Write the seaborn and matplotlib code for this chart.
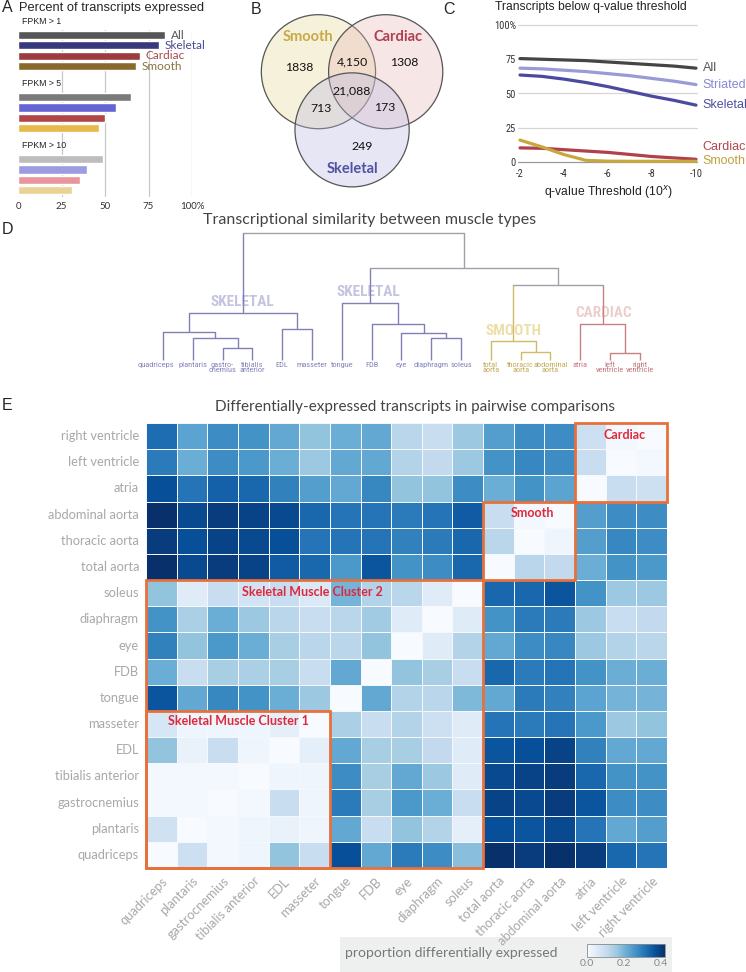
import numpy as np
import pandas as pd
import matplotlib
matplotlib.use("Agg")
import matplotlib.pyplot as plt
from matplotlib.patches import Circle, Rectangle
import seaborn as sns

# ---------------- data ----------------
# A: percent of transcripts expressed
fpkm_groups = ["FPKM > 1", "FPKM > 5", "FPKM > 10"]
tissue_sets = ["All", "Skeletal", "Cardiac", "Smooth"]
pct_fpkm1 = [84.5, 81, 70, 68]
pct_fpkm5 = [65, 56.5, 50, 46.5]
pct_fpkm10 = [49, 39.5, 35.5, 31]

# B: venn counts
venn_sets = ["Smooth", "Cardiac", "Skeletal"]
venn_regions = ["Smooth", "Cardiac", "Skeletal", "Smooth+Cardiac",
                "Smooth+Skeletal", "Cardiac+Skeletal", "All three"]
venn_labels = ["1838", "1308", "249", "4,150", "713", "173", "21,088"]

# C: transcripts below q-value threshold
q_exponent = [-2, -3, -4, -5, -6, -7, -8, -9, -10]
q_series = ["All", "Striated", "Skeletal", "Cardiac", "Smooth"]
pct_all = [75.5, 75, 74.5, 74, 73, 72, 71, 70, 68.5]
pct_striated = [68.5, 68, 67, 66, 64.5, 63, 61, 59, 56.5]
pct_skeletal = [63.5, 62.5, 60.5, 58, 55, 51.5, 48, 45, 41.5]
pct_cardiac = [10.3, 10, 9, 8, 7, 5.5, 4, 3, 2]
pct_smooth = [16, 11, 5.4, 1.2, 0.6, 0.5, 0.5, 0.5, 0.5]

# D: dendrogram (leaf order = heatmap column order)
muscles = ["quadriceps", "plantaris", "gastrocnemius", "tibialis anterior", "EDL",
           "masseter", "tongue", "FDB", "eye", "diaphragm", "soleus", "total aorta",
           "thoracic aorta", "abdominal aorta", "atria", "left ventricle", "right ventricle"]
leaf_labels = ["quadriceps", "plantaris", "gastro-\ncnemius", "tibialis\nanterior", "EDL",
               "masseter", "tongue", "FDB", "eye", "diaphragm", "soleus", "total\naorta",
               "thoracic\naorta", "abdominal\naorta", "atria", "left\nventricle", "right\nventricle"]
leaf_group = ["sk"] * 11 + ["sm"] * 3 + ["ca"] * 3
# (child a, child b, height, group); ids >= 17 refer to earlier merges
merges = [
    (2, 3, 12, "sk"), (1, 17, 22, "sk"), (0, 18, 28, "sk"), (4, 5, 31, "sk"),
    (19, 20, 47, "sk"), (9, 10, 22, "sk"), (8, 22, 27, "sk"), (7, 23, 36, "sk"),
    (6, 24, 57, "sk"), (12, 13, 8, "sm"), (11, 26, 19, "sm"), (15, 16, 7, "ca"),
    (14, 28, 36, "ca"), (27, 29, 75, "top"), (25, 30, 92, "top"), (21, 31, 127, "top"),
]

# E: proportion differentially expressed (rows top->bottom = reversed muscles)
diff_prop = [
    [0.32, 0.23, 0.27, 0.26, 0.22, 0.17, 0.21, 0.22, 0.12, 0.10, 0.16, 0.24, 0.27, 0.27, 0.09, 0.01, 0.00],
    [0.30, 0.21, 0.27, 0.25, 0.21, 0.16, 0.22, 0.22, 0.13, 0.11, 0.16, 0.26, 0.28, 0.27, 0.10, 0.00, 0.01],
    [0.37, 0.31, 0.34, 0.33, 0.29, 0.24, 0.22, 0.28, 0.17, 0.17, 0.27, 0.21, 0.26, 0.23, 0.00, 0.10, 0.09],
    [0.42, 0.38, 0.40, 0.39, 0.38, 0.33, 0.31, 0.31, 0.30, 0.31, 0.35, 0.10, 0.01, 0.00, 0.24, 0.27, 0.27],
    [0.40, 0.37, 0.39, 0.38, 0.37, 0.31, 0.31, 0.31, 0.29, 0.30, 0.33, 0.12, 0.00, 0.02, 0.24, 0.28, 0.27],
    [0.42, 0.38, 0.40, 0.39, 0.35, 0.33, 0.25, 0.36, 0.26, 0.27, 0.33, 0.00, 0.12, 0.11, 0.21, 0.26, 0.25],
    [0.17, 0.05, 0.10, 0.08, 0.10, 0.06, 0.20, 0.13, 0.12, 0.05, 0.00, 0.33, 0.33, 0.36, 0.26, 0.16, 0.16],
    [0.26, 0.14, 0.21, 0.16, 0.12, 0.10, 0.12, 0.155, 0.05, 0.00, 0.05, 0.26, 0.30, 0.30, 0.16, 0.10, 0.11],
    [0.29, 0.17, 0.25, 0.21, 0.145, 0.12, 0.12, 0.17, 0.00, 0.05, 0.13, 0.22, 0.27, 0.28, 0.16, 0.13, 0.12],
    [0.21, 0.10, 0.145, 0.14, 0.145, 0.10, 0.22, 0.00, 0.17, 0.145, 0.10, 0.33, 0.30, 0.31, 0.26, 0.21, 0.21],
    [0.36, 0.22, 0.28, 0.26, 0.21, 0.16, 0.00, 0.22, 0.13, 0.12, 0.19, 0.22, 0.30, 0.29, 0.23, 0.20, 0.20],
    [0.07, 0.02, 0.02, 0.02, 0.04, 0.00, 0.14, 0.10, 0.13, 0.09, 0.05, 0.31, 0.30, 0.31, 0.25, 0.16, 0.17],
    [0.17, 0.03, 0.10, 0.02, 0.00, 0.04, 0.22, 0.145, 0.145, 0.11, 0.05, 0.36, 0.37, 0.39, 0.29, 0.22, 0.22],
    [0.01, 0.01, 0.01, 0.00, 0.02, 0.02, 0.27, 0.145, 0.22, 0.16, 0.05, 0.38, 0.39, 0.40, 0.33, 0.26, 0.26],
    [0.01, 0.01, 0.00, 0.01, 0.10, 0.02, 0.30, 0.145, 0.25, 0.21, 0.10, 0.39, 0.38, 0.40, 0.36, 0.27, 0.27],
    [0.085, 0.00, 0.01, 0.02, 0.03, 0.02, 0.22, 0.10, 0.17, 0.13, 0.04, 0.37, 0.36, 0.38, 0.31, 0.22, 0.24],
    [0.00, 0.09, 0.01, 0.02, 0.17, 0.10, 0.37, 0.22, 0.30, 0.27, 0.18, 0.42, 0.40, 0.42, 0.40, 0.33, 0.31],
]
# boxed clusters: (label, first col, first row, size cols, size rows)
clusters = [("Cardiac", 14, 0, 3, 3), ("Smooth", 11, 3, 3, 3),
            ("Skeletal Muscle Cluster 2", 0, 6, 11, 11),
            ("Skeletal Muscle Cluster 1", 0, 11, 6, 6)]

# ---------------- style ----------------
sns.set_style("white")
plt.rcParams["font.family"] = ["Lato", "DejaVu Sans"]
ARIAL = ["Liberation Sans", "DejaVu Sans"]
NARROW = ["Roboto Condensed", "Liberation Sans Narrow", "Roboto", "DejaVu Sans"]

bar_colors = [["#565656", "#38387c", "#9c3c3e", "#8a6a2a"],
              ["#7a7a7a", "#6464d2", "#b0454a", "#e8b84a"],
              ["#bdbdbd", "#9c9ce0", "#e8959b", "#ebd193"]]
set_text_colors = {"All": "#555555", "Skeletal": "#4a4a92", "Cardiac": "#a44a4a", "Smooth": "#8a7040"}
line_colors = {"All": "#454545", "Striated": "#9a9ad8", "Skeletal": "#4a4aa0",
               "Cardiac": "#b0404a", "Smooth": "#c8a83e"}
line_text = {"All": "#555555", "Striated": "#8888d4", "Skeletal": "#5050a0",
             "Cardiac": "#b04850", "Smooth": "#c0a040"}
dendro_colors = {"sk": "#8080b6", "sm": "#d0bc64", "ca": "#c88080", "top": "#a0a0aa"}
leaf_text = {"sk": "#8484bc", "sm": "#c4aa58", "ca": "#c4767e"}
BOX = "#e8703a"
BOXTXT = "#e0283c"
TICKGRAY = "#a8a8a8"

W, H = 746, 972
fig = plt.figure(figsize=(W / 100, H / 100), dpi=100)


def px_axes(x0, y0, x1, y1):
    return fig.add_axes([x0 / W, 1 - y1 / H, (x1 - x0) / W, (y1 - y0) / H])


def letter(x, y, s):
    fig.text(x / W, 1 - y / H, s, fontsize=11.5, family=ARIAL, va="center", ha="left")


# ---------------- A ----------------
axA = px_axes(18, 14, 192, 198)
rows = []
palA = {}
for g, vals in enumerate([pct_fpkm1, pct_fpkm5, pct_fpkm10]):
    for i, (t, v) in enumerate(zip(tissue_sets, vals)):
        key = f"{g}-{t}"
        rows.append({"pos": g * 6 + 1 + i, "pct": v, "key": key})
        palA[key] = bar_colors[g][i]
dfA = pd.DataFrame(rows)
sns.barplot(data=dfA, x="pct", y="pos", hue="key", palette=palA, orient="y",
            native_scale=True, dodge=False, legend=False, saturation=1,
            width=0.8, ax=axA, zorder=2)
axA.set_xlim(0, 100)
axA.set_ylim(16.75, -1.03)
for v in [25, 50, 75, 100]:
    axA.axvline(v, ymin=0.011, ymax=0.913, color="#c8c8c8", lw=0.9, zorder=0)
axA.set_xticks([0, 25, 50, 75, 100])
axA.set_xticklabels(["0", "25", "50", "75", "100%"])
axA.tick_params(axis="x", length=0, labelsize=7, labelcolor="#333333", pad=3)
axA.set_yticks([])
axA.set_xlabel("")
axA.set_ylabel("")
for s in axA.spines.values():
    s.set_visible(False)
for g, grp in enumerate(fpkm_groups):
    axA.text(2.3, g * 6 - 0.35, grp, fontsize=6.3, family=ARIAL, va="center", ha="left", color="#222222")
for i, (t, v) in enumerate(zip(tissue_sets, pct_fpkm1)):
    axA.text(v + 3.3, 1 + i, t, fontsize=8.5, va="center", ha="left", color=set_text_colors[t])
letter(2, 8, "A")
fig.text(19 / W, 1 - 8 / H, "Percent of transcripts expressed", fontsize=9.3, family=ARIAL, va="center")

# ---------------- B ----------------
axB = px_axes(255, 5, 460, 200)
axB.set_xlim(-1.70, 1.89)
axB.set_ylim(-1.91, 1.51)
axB.axis("off")
venn_fill = ["#e8d898", "#e8b8b8", "#babae2"]
venn_title_col = ["#c8a848", "#b04050", "#5252a4"]
angles = [150, 30, 270]
for name, ang, fc in zip(venn_sets, angles, venn_fill):
    c = (0.68 * np.cos(np.radians(ang)), 0.68 * np.sin(np.radians(ang)))
    axB.add_patch(Circle(c, 1.0, facecolor=fc, alpha=0.35, edgecolor="none"))
    axB.add_patch(Circle(c, 1.0, facecolor="none", edgecolor="#555555", lw=0.9))
for name, ang, col, rr in zip(venn_sets, [129, 50, 270], venn_title_col, [1.22, 1.24, 1.37]):
    axB.text(rr * np.cos(np.radians(ang)), rr * np.sin(np.radians(ang)), name,
             fontsize=10.5, fontweight="bold", color=col, ha="center", va="center")
region_pol = [(156, 1.02), (29, 1.04), (280, 0.98), (90, 0.51), (209, 0.62), (-27, 0.65), (0, 0.0)]
for lab, (ang, rr) in zip(venn_labels, region_pol):
    axB.text(rr * np.cos(np.radians(ang)), rr * np.sin(np.radians(ang)), lab,
             fontsize=8.8, color="#111111", ha="center", va="center")
letter(251, 9, "B")

# ---------------- C ----------------
axC = px_axes(520, 25, 696, 162)
dfC = pd.DataFrame({
    "q": q_exponent * 5,
    "pct": pct_all + pct_striated + pct_skeletal + pct_cardiac + pct_smooth,
    "series": sum([[s] * len(q_exponent) for s in q_series], []),
})
for y in [25, 50, 75, 100]:
    axC.axhline(y, color="#d6d6d6", lw=0.9, zorder=0, xmin=-0.01, xmax=1.005, clip_on=False)
axC.axhline(0, color="#9a9a9a", lw=0.9, zorder=0, xmin=-0.01, xmax=1.005, clip_on=False)
sns.lineplot(data=dfC, x="q", y="pct", hue="series", palette=line_colors, hue_order=q_series,
             linewidth=2.3, legend=False, ax=axC, clip_on=False, zorder=3)
axC.set_xlim(-2, -10)
axC.set_ylim(0, 100)
axC.set_yticks([0, 25, 50, 75, 100])
axC.set_yticklabels(["0", "25", "50", "75", "100%"], family=NARROW)
axC.set_xticks([-2, -4, -6, -8, -10])
axC.set_xticklabels(["-2", "-4", "-6", "-8", "-10"], family=NARROW)
axC.tick_params(axis="y", length=0, labelsize=7.5, labelcolor="#333333", pad=3)
axC.tick_params(axis="x", length=3, width=0.8, color="#999999", labelsize=7.5,
                labelcolor="#333333", pad=2, direction="out")
for s in axC.spines.values():
    s.set_visible(False)
axC.set_xlabel("q-value Threshold (10$^{x}$)", fontsize=8.7, family=ARIAL, color="#222222", labelpad=4)
axC.set_ylabel("")
label_nudge = {"Cardiac": 9}
for s, vals in zip(q_series, [pct_all, pct_striated, pct_skeletal, pct_cardiac, pct_smooth]):
    axC.text(-10.3, vals[-1] + label_nudge.get(s, 0), s, fontsize=9, family=ARIAL,
             color=line_text[s], va="center", ha="left", clip_on=False)
letter(443, 9, "C")
fig.text(495 / W, 1 - 7 / H, "Transcripts below q-value threshold", fontsize=8.7,
         family=ARIAL, va="center", color="#222222")

# ---------------- D ----------------
axD = px_axes(148, 225, 670, 385)
axD.set_xlim(-0.503, 17.01)
axD.set_ylim(-25, 135)
axD.axis("off")
node_x = list(range(len(muscles)))
node_h = [0] * len(muscles)
node_g = list(leaf_group)
for a, b, h, g in merges:
    xa, xb = node_x[a], node_x[b]
    axD.plot([xa, xa], [node_h[a], h], color=dendro_colors[node_g[a]], lw=1.0, solid_capstyle="butt")
    axD.plot([xb, xb], [node_h[b], h], color=dendro_colors[node_g[b]], lw=1.0, solid_capstyle="butt")
    axD.plot([xa, xb], [h, h], color=dendro_colors[g], lw=1.0)
    node_x.append((xa + xb) / 2)
    node_h.append(h)
    node_g.append(g)
leaf_shift = {0: -0.22}
for i, (lab, g) in enumerate(zip(leaf_labels, leaf_group)):
    axD.text(i + leaf_shift.get(i, 0), -1.5, lab, ha="center", va="top", fontsize=6.0,
             color=leaf_text[g], family=NARROW, linespacing=0.85)
for txt, x, y, col in [("SKELETAL", 2.68, 58, "#c4c4e0"), ("SKELETAL", 6.9, 68, "#c4c4e0"),
                       ("SMOOTH", 11.75, 29, "#ebe0a8"), ("CARDIAC", 14.8, 47, "#ebcfcf")]:
    axD.text(x, y, txt, ha="center", va="center", fontsize=11, fontweight="bold",
             color=col, family=NARROW, zorder=0)
fig.text(370 / W, 1 - 220 / H, "Transcriptional similarity between muscle types",
         ha="center", va="center", fontsize=11.5, color="#444444")
letter(2, 229, "D")

# ---------------- E ----------------
axE = px_axes(146, 423, 667, 868)
cax = px_axes(587, 944, 665, 957)
fig.add_artist(Rectangle((340 / W, 0), (672 - 340) / W, (972 - 937) / H,
                         transform=fig.transFigure, facecolor="#eeefef", edgecolor="none", zorder=-1))
dfE = pd.DataFrame(diff_prop, index=muscles[::-1], columns=muscles)
sns.heatmap(dfE, cmap="Blues", vmin=0, vmax=0.42, linewidths=0.6, linecolor="#f4f8fc",
            ax=axE, cbar_ax=cax, cbar_kws={"orientation": "horizontal", "ticks": [0, 0.2, 0.4]})
axE.set_xlabel("")
axE.set_ylabel("")
axE.set_yticklabels(dfE.index, rotation=0, fontsize=9.3, color=TICKGRAY)
axE.set_xticklabels(dfE.columns, rotation=45, ha="right", rotation_mode="anchor",
                    fontsize=9.3, color=TICKGRAY)
axE.tick_params(length=0, pad=5)
for lab, c0, r0, nc, nr in clusters:
    axE.add_patch(Rectangle((c0, r0), nc, nr, fill=False, edgecolor=BOX, lw=2, zorder=5, clip_on=False))
label_pos = {"Cardiac": (15.6, 0.45), "Smooth": (12.6, 3.45),
             "Skeletal Muscle Cluster 2": (5.43, 6.45), "Skeletal Muscle Cluster 1": (3.03, 11.4)}
for lab, *_ in clusters:
    x, y = label_pos[lab]
    axE.text(x, y, lab, ha="center", va="center", fontsize=9, fontweight="bold", color=BOXTXT, zorder=6)
cax.tick_params(length=0, labelsize=7.5, labelcolor="#888888", pad=1.5)
cax.set_xticklabels(["0.0", "0.2", "0.4"])
for s in cax.spines.values():
    s.set_edgecolor("#8a8a8a")
    s.set_linewidth(0.6)
fig.text(345 / W, 1 - 953 / H, "proportion differentially expressed", fontsize=10,
         color="#777777", va="center", ha="left")
fig.text(415 / W, 1 - 407 / H, "Differentially-expressed transcripts in pairwise comparisons",
         ha="center", va="center", fontsize=11, color="#444444")
letter(2, 405, "E")

fig.savefig("out.png", dpi=100)
